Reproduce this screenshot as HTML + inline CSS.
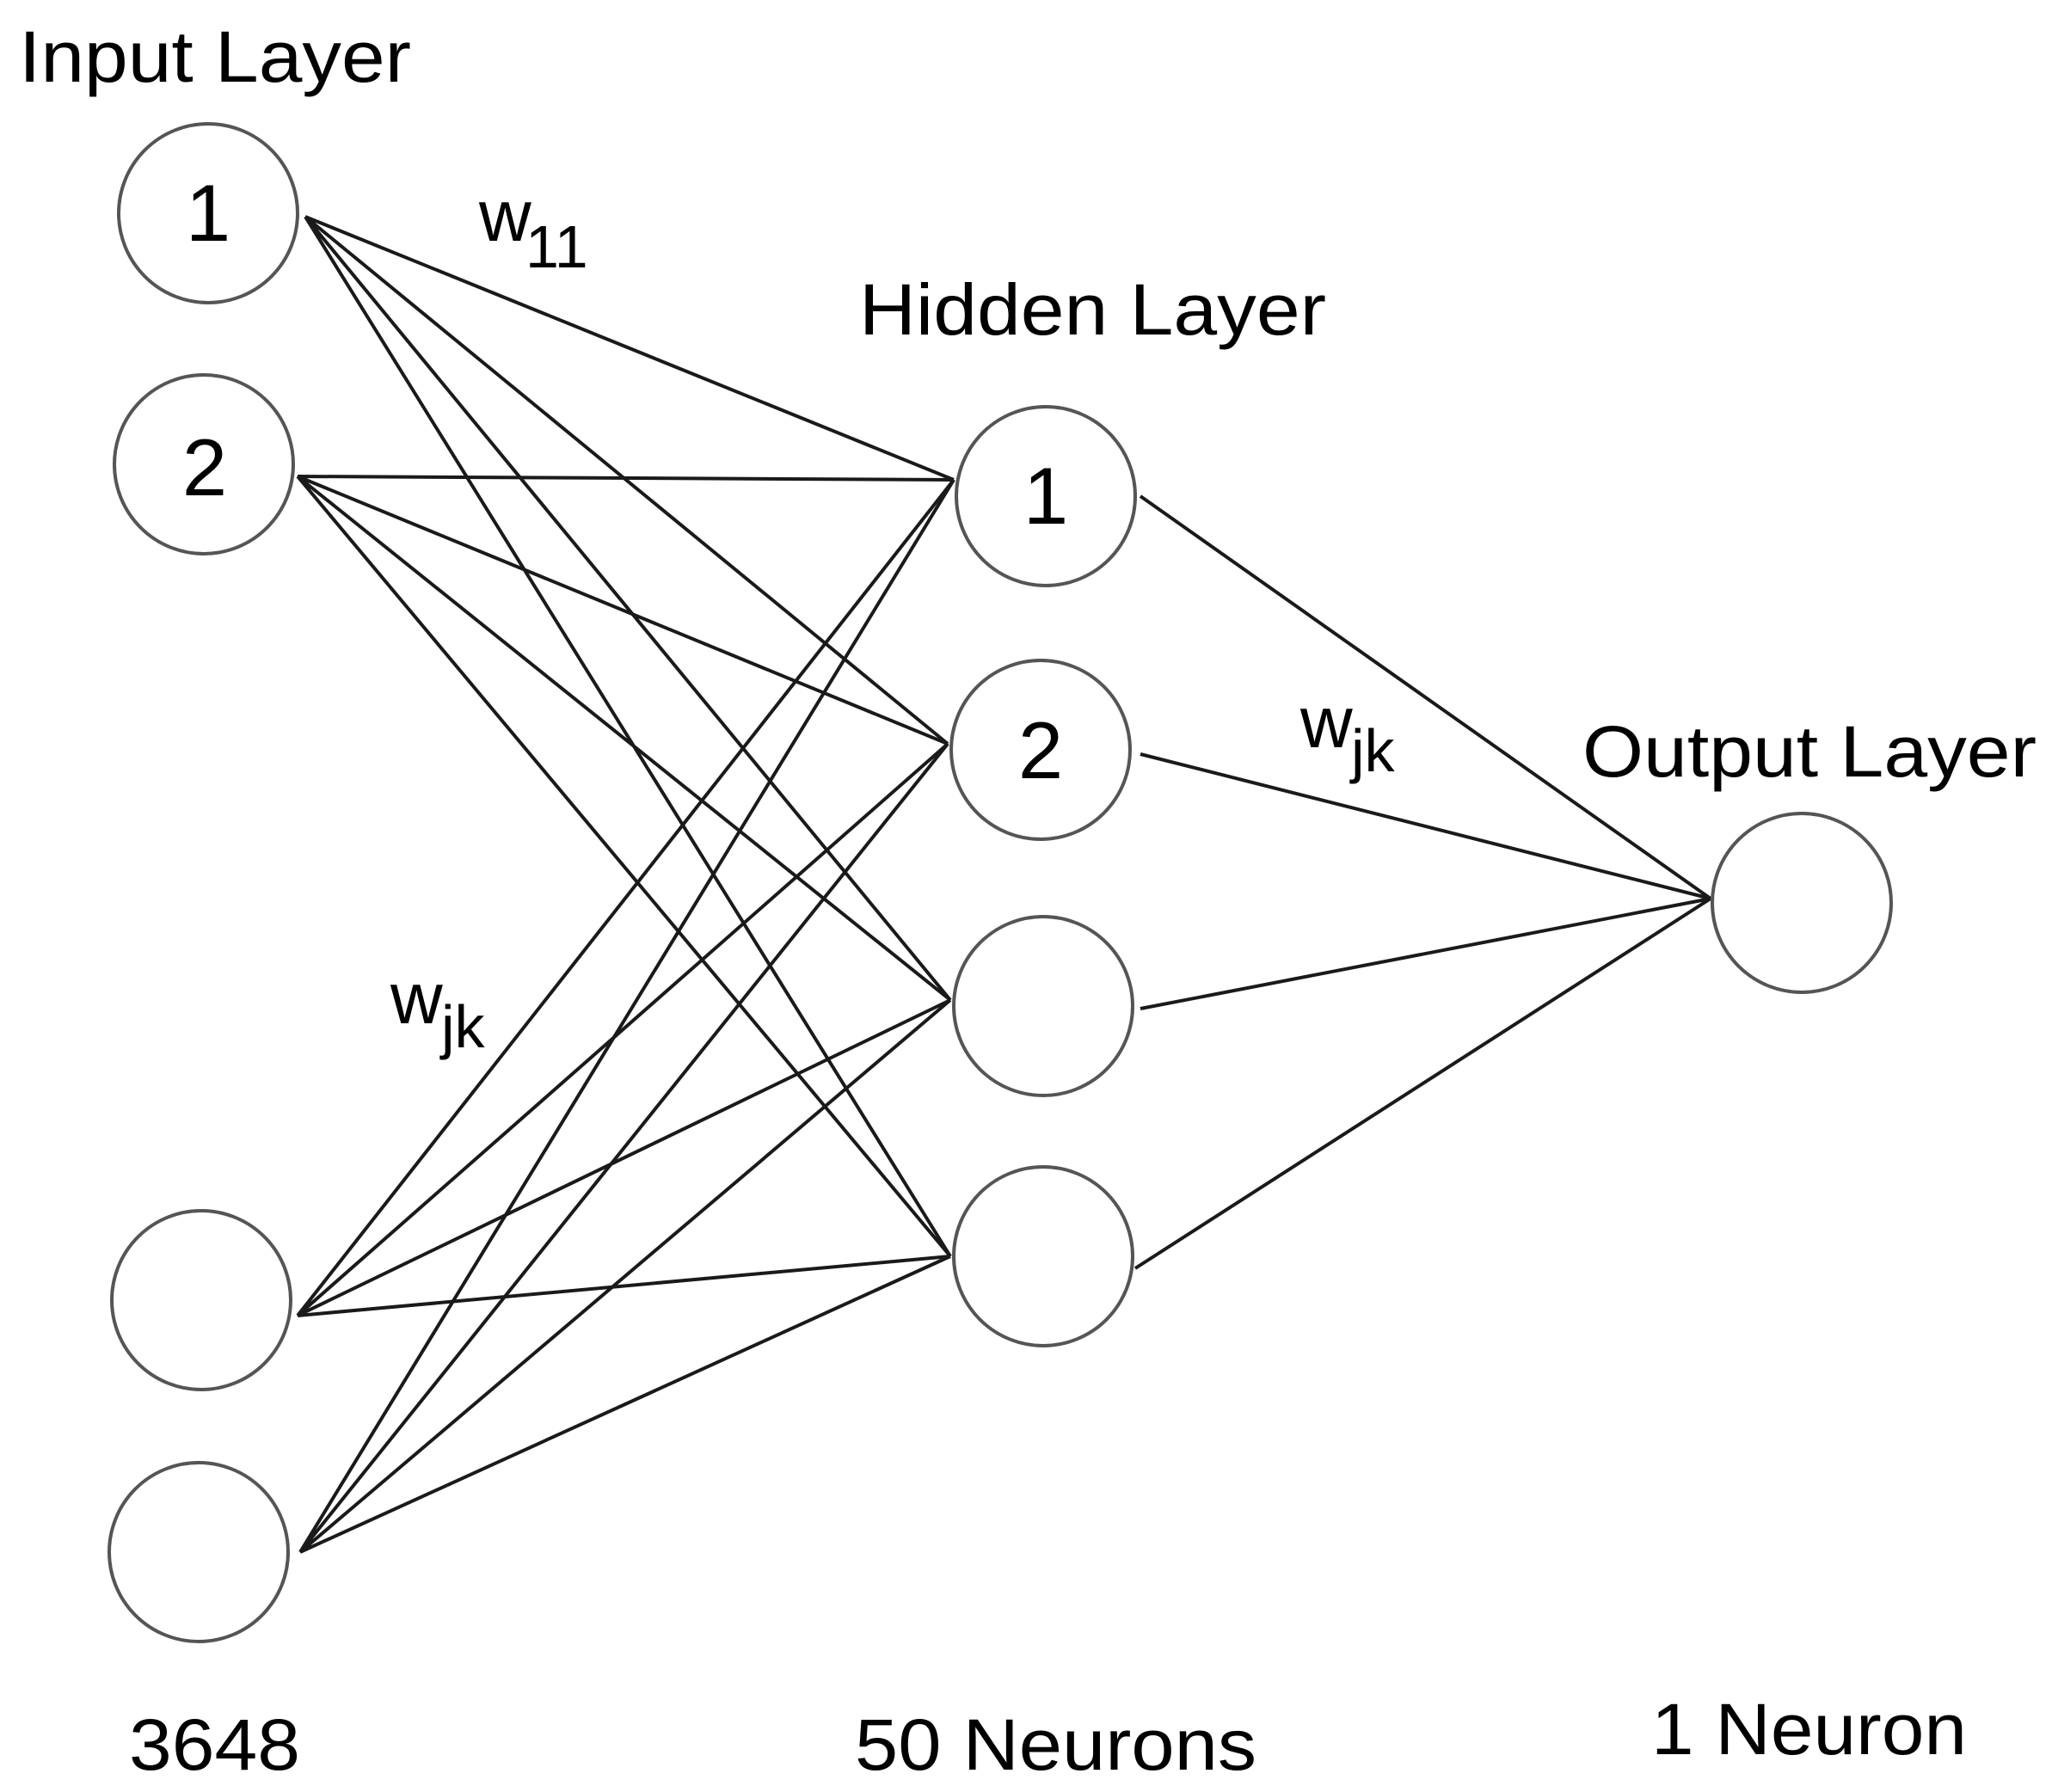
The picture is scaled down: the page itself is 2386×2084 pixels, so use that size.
<!DOCTYPE html>
<html><head><style>html,body{margin:0;padding:0;background:#fff}svg{display:block}</style></head>
<body>
<svg width="2386" height="2084" viewBox="0 0 2386 2084" xmlns="http://www.w3.org/2000/svg" font-family="Liberation Sans, Arial, sans-serif" fill="#000">
<g stroke="#1a1a1a" stroke-width="4" fill="none">
<path d="M355 252L1109 558M355 252L1102 865M355 252L1105 1163M355 252L1105 1461"/>
<path d="M346 554L1109 558M346 554L1102 865M346 554L1105 1163M346 554L1105 1461"/>
<path d="M346 1530L1109 558M346 1530L1102 865M346 1530L1105 1163M346 1530L1105 1461"/>
<path d="M349 1805L1109 558M349 1805L1102 865M349 1805L1105 1163M349 1805L1105 1461"/>
<path d="M1326 577L1989 1045M1326 877L1989 1045M1326 1173L1989 1045M1320 1475L1989 1045"/>
</g>
<g stroke="#555" stroke-width="4" fill="#fff">
<circle cx="242" cy="248" r="104"/>
<circle cx="237" cy="540" r="104"/>
<circle cx="234" cy="1512" r="104"/>
<circle cx="231" cy="1805" r="104"/>
<circle cx="1216" cy="577" r="104"/>
<circle cx="1210" cy="872" r="104"/>
<circle cx="1213" cy="1170" r="104"/>
<circle cx="1213" cy="1461" r="104"/>
<circle cx="2095" cy="1050" r="104"/>
</g>
<g font-size="84">
<text x="22" y="95" textLength="456" lengthAdjust="spacingAndGlyphs">Input Layer</text>
<text x="242" y="280" text-anchor="middle" font-size="94">1</text>
<text x="238" y="576" text-anchor="middle" font-size="94">2</text>
<text x="1216" y="609" text-anchor="middle" font-size="94">1</text>
<text x="1210" y="905" text-anchor="middle" font-size="94">2</text>
<text x="557" y="280">w</text>
<text x="611" y="311" font-size="70">11</text>
<text x="999" y="389" textLength="543" lengthAdjust="spacingAndGlyphs">Hidden Layer</text>
<text x="1512" y="869">w</text>
<text x="1571" y="897" font-size="70">jk</text>
<text x="1840" y="903" textLength="528" lengthAdjust="spacingAndGlyphs">Output Layer</text>
<text x="454" y="1190">w</text>
<text x="513" y="1218" font-size="70">jk</text>
<text x="150" y="2058" textLength="199" lengthAdjust="spacingAndGlyphs">3648</text>
<text x="994" y="2058" textLength="467" lengthAdjust="spacingAndGlyphs">50 Neurons</text>
<text x="1920" y="2040" textLength="367" lengthAdjust="spacingAndGlyphs">1 Neuron</text>
</g>
</svg>
</body></html>
